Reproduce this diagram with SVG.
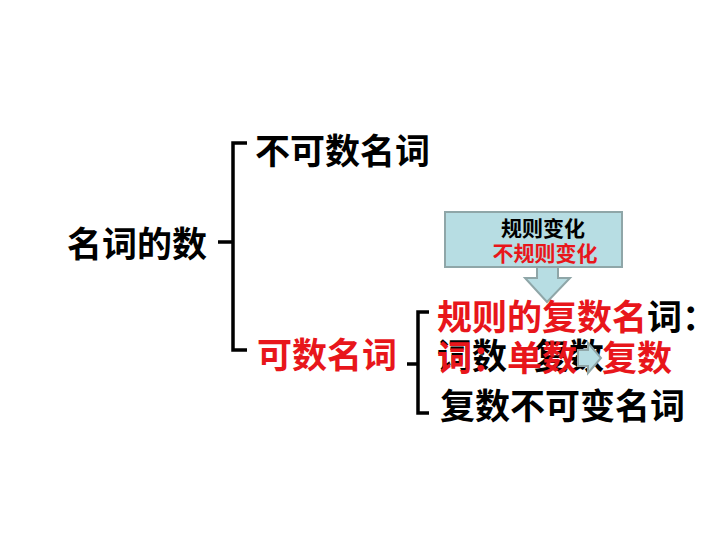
<svg xmlns="http://www.w3.org/2000/svg" width="720" height="540" viewBox="0 0 720 540">
<style>
.t{font-family:"Noto Sans CJK SC","Noto Sans CJK JP",sans-serif;font-weight:700;font-size:35px}
.s{font-family:"Noto Sans CJK SC","Noto Sans CJK JP",sans-serif;font-weight:700;font-size:21px;text-anchor:middle}
.k{fill:#000}
.r{fill:#e8161b}
.br{fill:none;stroke:#000;stroke-width:3.5}
.ar{fill:#b7dde3;stroke:#8fa6a8;stroke-width:2}
</style>
<rect width="720" height="540" fill="#fff"/>
<g id="connectors">
<path class="br" d="M247,143 H233 V350 H247 M218,242 H233"/>
<path class="br" d="M429,312 H418 V413 H429 M407,364 H418"/>
</g>
<g id="root"><text class="t k" x="67" y="257">名词的数</text></g>
<g id="uncountable"><text class="t k" x="255" y="164">不可数名词</text></g>
<g id="countable"><text class="t r" x="257" y="368">可数名词</text></g>
<g id="change-box">
<rect class="ar" x="445" y="212" width="177" height="55"/>
<path class="ar" d="M537,268 V278 H525 L547,302 L570,278 H558 V268"/>
<text class="s k" x="543" y="236">规则变化</text>
<text class="s r" x="545" y="261">不规则变化</text>
</g>
<g id="regular">
<text class="t" x="437" y="330"><tspan class="r">规则的复数名</tspan><tspan class="k">词：</tspan></text>
<text class="t k" x="437" y="369">词数</text>
<text class="t k" x="534" y="369">复数</text>
<text class="t r" x="437" y="371">词：单数</text>
<path class="ar" d="M578,350 H588 V343 L601,358 L588,373 V366 H578 Z"/>
<text class="t r" x="602" y="371">复数</text>
</g>
<g id="invariable"><text class="t k" x="440" y="419">复数不可变名词</text></g>
</svg>
